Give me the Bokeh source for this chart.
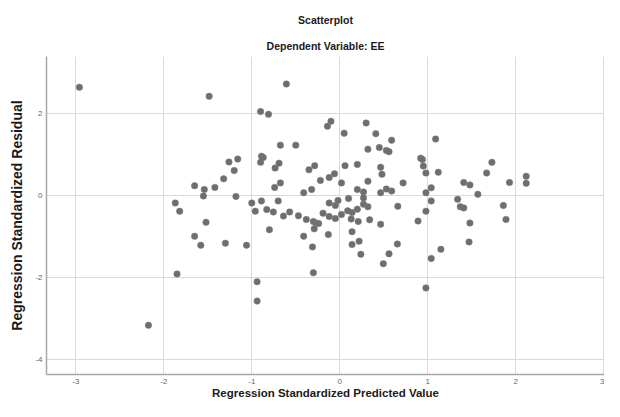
from bokeh.plotting import figure
from bokeh.models import FixedTicker, Title, Range1d
from bokeh.embed import file_html
from bokeh.resources import INLINE

title_text = "Scatterplot"
subtitle_text = "Dependent Variable: EE"
x_label = "Regression Standardized Predicted Value"
y_label = "Regression Standardized Residual"

x_ticks = [-3, -2, -1, 0, 1, 2, 3]
y_ticks = [-4, -2, 0, 2]
x_tick_labels = ["-3", "-2", "-1", "0", "1", "2", "3"]
y_tick_labels = ["-4", "-2", "0", "2"]

pred = [
    -2.96, -2.175, -1.87, -1.82, -1.85, -1.65, -1.65, -1.58, -1.54, -1.55,
    -1.52, -1.485, -1.42, -1.32, -1.30, -1.26, -1.16, -1.20, -1.18, -1.06,
    -1.00, -0.96, -0.94, -0.94, -0.90, -0.81, -0.89, -0.87, -0.90, -0.89,
    -0.83, -0.80, -0.74, -0.735, -0.69, -0.675, -0.675, -0.70, -0.755, -0.64,
    -0.607, -0.57, -0.50, -0.47, -0.41, -0.41, -0.38, -0.35, -0.32, -0.31,
    -0.30, -0.285, -0.30, -0.27, -0.24, -0.29, -0.22, -0.19, -0.14, -0.10,
    -0.12, -0.12, -0.12, -0.13, -0.06, -0.05, -0.05, -0.02, 0.02, 0.02,
    0.05, 0.06, 0.09, 0.10, 0.13, 0.14, 0.14, 0.14, 0.20, 0.20,
    0.20, 0.21, 0.22, 0.24, 0.27, 0.27, 0.27, 0.32, 0.30, 0.32,
    0.32, 0.34, 0.41, 0.45, 0.465, 0.48, 0.465, 0.465, 0.495, 0.53,
    0.56, 0.53, 0.56, 0.59, 0.59, 0.66, 0.655, 0.72, 0.89, 0.92,
    0.94, 0.95, 0.98, 0.98, 0.98, 0.98, 1.04, 1.04, 1.04, 1.09,
    1.12, 1.15, 1.34, 1.37, 1.41, 1.41, 1.48, 1.48, 1.47, 1.57,
    1.67, 1.73, 1.86, 1.89, 1.93, 2.12, 2.12,
]
resid = [
    2.63, -3.17, -0.19, -0.39, -1.92, 0.23, -1.00, -1.22, 0.14, -0.02,
    -0.66, 2.41, 0.19, 0.40, -1.17, 0.81, 0.88, 0.60, -0.03, -1.22,
    -0.19, -0.39, -2.11, -2.58, 2.04, 1.97, 0.95, 0.92, 0.80, -0.14,
    -0.35, -0.84, 0.19, 0.66, 0.78, 0.30, 1.22, -0.14, -0.41, -0.51,
    2.71, -0.41, 1.22, -0.50, 0.06, -1.00, -0.59, 0.62, 0.14, -1.26,
    -1.89, 0.72, -0.64, -0.68, -0.69, -0.82, 0.36, -0.44, 1.68, 1.80,
    0.43, -0.19, -0.52, -0.96, 0.52, -0.25, -0.57, -0.13, 0.30, -0.47,
    1.51, 0.72, -0.38, -0.08, -0.58, -0.42, -0.89, -1.20, 0.75, 0.14,
    -0.34, -0.64, -1.12, -1.44, 0.08, -0.07, -0.22, -0.28, 1.76, 1.12,
    0.34, -0.60, 1.50, 1.16, 0.68, 0.51, 0.06, -0.71, -1.67, 1.09,
    1.06, 0.15, -1.43, 1.34, 0.10, -0.27, -1.19, 0.30, -0.63, 0.90,
    0.87, 0.71, 0.54, 0.06, -0.39, -2.26, 0.18, -0.14, -1.54, 1.37,
    0.56, -1.32, -0.10, -0.28, -0.31, 0.31, 0.25, -0.68, -1.14, 0.02,
    0.54, 0.80, -0.25, -0.59, 0.31, 0.46, 0.29,
]

FONT = "Liberation Sans"

p = figure(width=604, height=401, output_backend="svg", toolbar_location=None,
           x_range=Range1d(-3.334, 3.01), y_range=Range1d(-4.37, 3.38),
           min_border_left=46, min_border_right=0, min_border_top=56, min_border_bottom=24)
p.outline_line_color = None
p.background_fill_color = "white"
p.border_fill_color = "white"

sub = Title(text=subtitle_text, align="center", text_font=FONT, text_font_size="10.5px",
            text_font_style="bold", text_color="#1a1a1a", standoff=9)
main = Title(text=title_text, align="center", text_font=FONT, text_font_size="10.5px",
             text_font_style="bold", text_color="#1a1a1a", standoff=15)
p.add_layout(sub, "above")
p.add_layout(main, "above")

# x-axis title as a caption below the axis
xtitle = Title(text=x_label, align="center", vertical_align="top", text_font=FONT,
               text_font_size="11.5px", text_font_style="bold", text_color="#1a1a1a",
               standoff=1, offset=-5)
p.add_layout(xtitle, "below")

p.scatter(pred, resid, size=6.5, fill_color="#6e6e6e", line_color="#7c7c7c",
          line_width=0.5)

for ax in (p.xaxis[0], p.yaxis[0]):
    ax.axis_line_color = "#a8a8a8"
    ax.axis_line_width = 1.5
    ax.major_tick_line_color = None
    ax.minor_tick_line_color = None
    ax.major_tick_out = 0
    ax.major_tick_in = 0
    ax.major_label_text_font = FONT
    ax.major_label_text_font_size = "8px"
    ax.major_label_text_color = "#666666"
    ax.axis_label_text_font = FONT
    ax.axis_label_text_font_style = "bold"
    ax.axis_label_text_color = "#1a1a1a"

p.yaxis.axis_label_text_font_size = "14px"
p.xaxis.ticker = FixedTicker(ticks=x_ticks)
p.yaxis.ticker = FixedTicker(ticks=y_ticks)
p.xaxis.major_label_overrides = dict(zip(x_ticks, x_tick_labels))
p.yaxis.major_label_overrides = dict(zip(y_ticks, y_tick_labels))
p.yaxis.axis_label = y_label
p.xaxis.major_label_standoff = 4
p.yaxis.major_label_standoff = 4
p.yaxis.axis_label_standoff = 7

p.xgrid.grid_line_color = "#dadada"
p.ygrid.grid_line_color = "#dadada"
p.xgrid.grid_line_width = 1
p.ygrid.grid_line_width = 1

open("out.html", "w").write(file_html(p, INLINE))
